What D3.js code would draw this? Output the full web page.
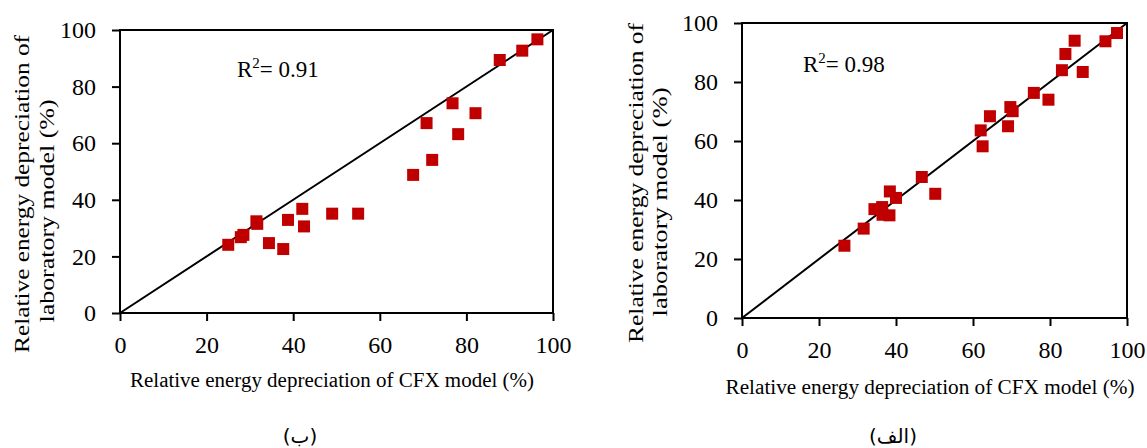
<!DOCTYPE html>
<html>
<head>
<meta charset="utf-8">
<script src="https://cdn.jsdelivr.net/npm/d3@7"></script>
<style>
  body { margin: 0; background: #fff; }
  svg { display: block; }
  text { font-family: "Liberation Serif", "Times New Roman", serif; fill: #000; }
  text.caption { font-family: "DejaVu Sans", sans-serif; }
</style>
</head>
<body>
<div id="d3-container"></div>
<script>
/**
 * CONSTANTS AND GLOBALS
 * */
const width = 1147,
  height = 448;

// shared tick values for both axes
const tickValues = [0, 20, 40, 60, 80, 100];

// panel (ب) - CFX vs laboratory, R2 = 0.91
const cfxB = [25.0, 27.9, 28.5, 31.5, 31.7, 34.4, 37.7, 38.8, 42.1, 42.5, 49.0, 55.0,
  67.7, 70.8, 72.1, 76.8, 78.1, 82.1, 87.7, 92.9, 96.4];
const labB = [24.1, 26.8, 27.6, 32.4, 31.5, 24.7, 22.6, 32.9, 36.8, 30.6, 35.1, 35.1,
  48.8, 67.1, 54.1, 74.1, 63.2, 70.6, 89.4, 92.7, 96.7];

// panel (الف) - CFX vs laboratory, R2 = 0.98
const cfxA = [26.6, 31.6, 34.4, 36.4, 36.5, 38.3, 38.4, 40.0, 46.7, 50.2, 62.0, 62.5,
  64.4, 69.1, 69.7, 70.3, 75.8, 79.6, 83.1, 84.0, 86.4, 88.5, 94.4, 97.4];
const labA = [24.5, 30.3, 36.9, 37.6, 35.0, 34.8, 42.9, 40.7, 47.8, 42.1, 63.6, 58.2,
  68.4, 65.0, 71.5, 70.1, 76.3, 74.0, 84.0, 89.5, 94.0, 83.4, 93.8, 96.6];

const xTitle = "Relative energy depreciation of CFX model (%)";
const yTitle = ["Relative energy depreciation of", "laboratory model (%)"];

const svg = d3.select("#d3-container")
  .append("svg")
  .attr("width", width)
  .attr("height", height);

// layout of each panel (pixel boxes + text anchors)
const panels = [
  {
    cfx: cfxB, lab: labB, r2: "0.91", caption: "(ب)",
    box: { left: 120, right: 553, top: 30, bottom: 313 },
    r2Pos: [237, 77],
    yTitlePos: [[29, 194, 318], [54, 211, 223]],
    xTitlePos: [332, 387, 404],
    captionPos: [300, 443]
  },
  {
    cfx: cfxA, lab: labA, r2: "0.98", caption: "(الف)",
    box: { left: 742, right: 1127, top: 23, bottom: 318 },
    r2Pos: [803, 72],
    yTitlePos: [[643, 183, 320], [667, 202, 229]],
    xTitlePos: [930, 394, 409],
    captionPos: [893, 443]
  }
];

panels.forEach(drawPanel);

function drawPanel(p) {
  const b = p.box;
  const x = d3.scaleLinear().domain([0, 100]).range([b.left, b.right]);
  const y = d3.scaleLinear().domain([0, 100]).range([b.bottom, b.top]);

  const g = svg.append("g");

  // axes with outward ticks
  const xAxis = g.append("g")
    .attr("transform", `translate(0,${b.bottom})`)
    .call(d3.axisBottom(x).tickValues(tickValues).tickSize(8).tickPadding(15));
  const yAxis = g.append("g")
    .attr("transform", `translate(${b.left},0)`)
    .call(d3.axisLeft(y).tickValues(tickValues).tickSize(8).tickPadding(16));

  [xAxis, yAxis].forEach(a => {
    a.select(".domain").remove();
    a.selectAll(".tick line").attr("stroke", "#000").attr("stroke-width", 2);
    a.selectAll(".tick text")
      .attr("font-size", 24)
      .attr("fill", "#000");
  });

  // box frame
  g.append("rect")
    .attr("x", b.left)
    .attr("y", b.top)
    .attr("width", b.right - b.left)
    .attr("height", b.bottom - b.top)
    .attr("fill", "none")
    .attr("stroke", "#000")
    .attr("stroke-width", 2);

  // 1:1 line
  g.append("line")
    .attr("x1", x(0)).attr("y1", y(0))
    .attr("x2", x(100)).attr("y2", y(100))
    .attr("stroke", "#000")
    .attr("stroke-width", 2);

  // square markers
  const pts = p.cfx.map((v, i) => ({ cfx: v, lab: p.lab[i] }));
  const s = 12;
  g.selectAll("rect.pt")
    .data(pts)
    .join("rect")
    .attr("class", "pt")
    .attr("x", d => x(d.cfx) - s / 2)
    .attr("y", d => y(d.lab) - s / 2)
    .attr("width", s)
    .attr("height", s)
    .attr("fill", "#c00000");

  // R2 label
  const r2 = g.append("text")
    .attr("x", p.r2Pos[0])
    .attr("y", p.r2Pos[1])
    .attr("font-size", 23);
  r2.append("tspan").text("R");
  r2.append("tspan").attr("font-size", 15).attr("dy", -9).text("2");
  r2.append("tspan").attr("dy", 9).text("= " + p.r2);

  // y title (two rotated lines)
  p.yTitlePos.forEach(([tx, ty, len], i) => {
    g.append("text")
      .attr("transform", `translate(${tx},${ty}) rotate(-90)`)
      .attr("text-anchor", "middle")
      .attr("font-size", 22)
      .attr("textLength", len)
      .attr("lengthAdjust", "spacingAndGlyphs")
      .text(yTitle[i]);
  });

  // x title
  g.append("text")
    .attr("x", p.xTitlePos[0])
    .attr("y", p.xTitlePos[1])
    .attr("text-anchor", "middle")
    .attr("font-size", 20)
    .attr("textLength", p.xTitlePos[2])
    .attr("lengthAdjust", "spacingAndGlyphs")
    .text(xTitle);

  // caption under the panel
  g.append("text")
    .attr("class", "caption")
    .attr("x", p.captionPos[0])
    .attr("y", p.captionPos[1])
    .attr("text-anchor", "middle")
    .attr("font-size", 20)
    .text(p.caption);
}
</script>
</body>
</html>
